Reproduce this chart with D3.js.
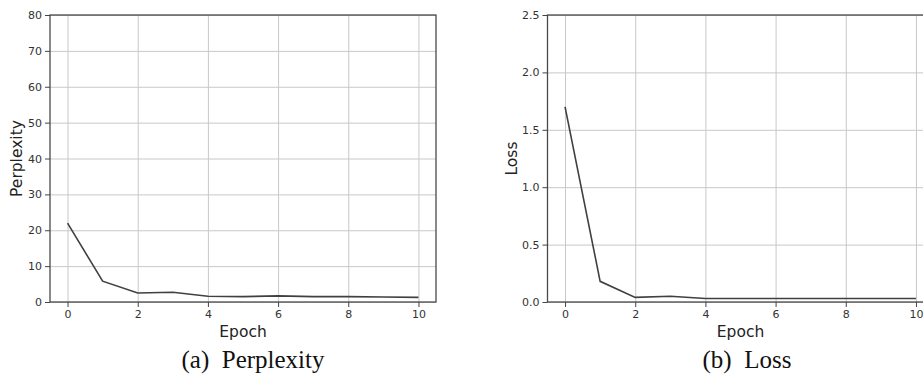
<!DOCTYPE html>
<html>
<head>
<meta charset="utf-8">
<script src="https://cdn.jsdelivr.net/npm/d3@7"></script>
<style>
  body { margin: 0; background: #fff; }
  .tick text { font-family: "DejaVu Sans", sans-serif; font-size: 11px; fill: #333; }
  .axis-label { font-family: "DejaVu Sans", sans-serif; font-size: 15.5px; fill: #222; }
  .caption { font-family: "Liberation Serif", "Times New Roman", serif; font-size: 25px; fill: #111; }
</style>
</head>
<body>
<script>
   // data
   let epochs = [0, 1, 2, 3, 4, 5, 6, 7, 8, 9, 10];
   let perplexity = [22, 5.8, 2.5, 2.7, 1.6, 1.5, 1.7, 1.5, 1.5, 1.4, 1.3];
   let loss = [1.70, 0.18, 0.04, 0.05, 0.03, 0.03, 0.03, 0.03, 0.03, 0.03, 0.03];
   let xTicks = [0, 2, 4, 6, 8, 10];
   let perplexityTicks = [0, 10, 20, 30, 40, 50, 60, 70, 80];
   let lossTicks = [0, 0.5, 1.0, 1.5, 2.0, 2.5];

   let width = 923;
   let height = 375;
   let svg = d3.select('body').append('svg')
      .attr('width', width)
      .attr('height', height);

   let drawPanel = (opts) => {
      let g = svg.append('g').attr('transform', 'translate(' + opts.left + ',' + opts.top + ')');
      let w = opts.w, h = opts.h;

      let xScale = d3.scaleLinear().domain([-0.5, 10.5]).range([0, w]);
      let yScale = d3.scaleLinear().domain(opts.yDomain).range([h, 0]);

      // grid
      g.append('g')
         .attr('transform', 'translate(0,' + h + ')')
         .call(d3.axisBottom(xScale).tickValues(xTicks).tickSize(-h).tickFormat(''))
         .call(s => s.select('.domain').remove())
         .selectAll('line').attr('stroke', '#c8c8c8').attr('stroke-width', 1);
      g.append('g')
         .call(d3.axisLeft(yScale).tickValues(opts.yTicks).tickSize(-w).tickFormat(''))
         .call(s => s.select('.domain').remove())
         .selectAll('line').attr('stroke', '#c8c8c8').attr('stroke-width', 1);

      // frame
      g.append('rect')
         .attr('width', w)
         .attr('height', h)
         .attr('fill', 'none')
         .attr('stroke', '#4a4a4a')
         .attr('stroke-width', 1.3);

      // line
      let line = d3.line()
         .x((d, i) => xScale(epochs[i]))
         .y(d => yScale(d));
      g.append('path')
         .datum(opts.values)
         .attr('d', line)
         .attr('fill', 'none')
         .attr('stroke', '#404040')
         .attr('stroke-width', 1.6);

      // axes
      g.append('g')
         .attr('transform', 'translate(0,' + h + ')')
         .call(d3.axisBottom(xScale).tickValues(xTicks).tickSize(5).tickSizeOuter(0).tickPadding(3))
         .call(s => s.select('.domain').remove())
         .selectAll('line').attr('stroke', '#444');
      g.append('g')
         .call(d3.axisLeft(yScale).tickValues(opts.yTicks).tickSize(5).tickSizeOuter(0).tickPadding(3).tickFormat(opts.yFormat))
         .call(s => s.select('.domain').remove())
         .selectAll('line').attr('stroke', '#444');
      g.selectAll('.tick text').attr('font-family', null).attr('font-size', null);

      // labels
      g.append('text')
         .attr('class', 'axis-label')
         .attr('text-anchor', 'middle')
         .attr('x', xScale(5))
         .attr('y', h + 35)
         .text('Epoch');
      g.append('text')
         .attr('class', 'axis-label')
         .attr('text-anchor', 'middle')
         .attr('transform', 'translate(' + opts.yLabelX + ',' + (h / 2) + ') rotate(-90)')
         .text(opts.yLabel);
      svg.append('text')
         .attr('class', 'caption')
         .attr('text-anchor', 'middle')
         .attr('x', opts.captionX)
         .attr('y', 368)
         .attr('xml:space', 'preserve')
         .text(opts.caption);
   }

   drawPanel({
      left: 50, top: 15, w: 386, h: 287,
      values: perplexity,
      yDomain: [0, 80], yTicks: perplexityTicks, yFormat: d3.format('d'),
      yLabel: 'Perplexity', yLabelX: -28,
      caption: '(a)  Perplexity', captionX: 253
   });
   drawPanel({
      left: 547.5, top: 15, w: 386, h: 287,
      values: loss,
      yDomain: [0, 2.5], yTicks: lossTicks, yFormat: d3.format('.1f'),
      yLabel: 'Loss', yLabelX: -31,
      caption: '(b)  Loss', captionX: 747
   });
</script>
</body>
</html>
